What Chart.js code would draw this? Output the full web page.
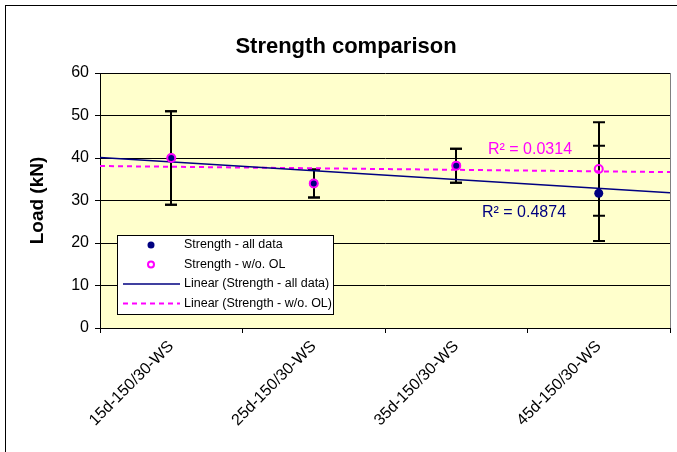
<!DOCTYPE html>
<html>
<head>
<meta charset="utf-8">
<script src="https://cdn.jsdelivr.net/npm/chart.js@4"></script>
<style>
  html, body { margin: 0; padding: 0; background: #fff; }
  #wrap { width: 677px; height: 452px; }
</style>
</head>
<body>
<div id="wrap"><canvas id="chart"></canvas></div>
<script>
const categories = ['15d-150/30-WS', '25d-150/30-WS', '35d-150/30-WS', '45d-150/30-WS'];
const strengthAll = [40.0, 34.0, 38.2, 31.7];
const errorAll = [11.0, 3.3, 4.0, 11.2];
const strengthNoOL = [40.0, 34.0, 38.2, 37.4];
const errorNoOL = [11.0, 3.3, 4.0, 11.0];
const r2Labels = ['R² = 0.4874', 'R² = 0.0314'];
const yTicks = [0, 10, 20, 30, 40, 50, 60];

const FONT = "'Liberation Sans', Arial, sans-serif";
const NAVY = '#000080';
const MAGENTA = '#FF00FF';

// least squares line over category positions 1..n, drawn across the whole plot
function trendline(values) {
    const n = values.length;
    const xs = values.map((v, i) => i + 1);
    const mx = xs.reduce((a, b) => a + b, 0) / n;
    const my = values.reduce((a, b) => a + b, 0) / n;
    let sxy = 0, sxx = 0;
    xs.forEach((x, i) => { sxy += (x - mx) * (values[i] - my); sxx += (x - mx) * (x - mx); });
    const slope = sxy / sxx;
    return [0.5, n + 0.5].map(x => ({ x: x, y: my + slope * (x - mx) }));
}

const toPoints = values => values.map((v, i) => ({ x: i + 1, y: v }));

const chartDecor = {
    id: 'chartDecor',
    beforeDraw(chart) {
        const { ctx, chartArea: a } = chart;
        ctx.save();
        ctx.fillStyle = '#fff';
        ctx.fillRect(0, 0, chart.width, chart.height);
        ctx.strokeStyle = '#000';
        ctx.lineWidth = 1;
        ctx.strokeRect(5.5, 5.5, 700, 500);
        ctx.fillStyle = '#FFFFCC';
        ctx.fillRect(a.left, a.top, a.right - a.left, a.bottom - a.top);
        ctx.restore();
    },
    beforeDatasetsDraw(chart) {
        const { ctx, chartArea: a, scales: { x, y } } = chart;
        ctx.save();
        ctx.strokeStyle = '#808080';
        ctx.lineWidth = 1;
        ctx.beginPath();
        ctx.moveTo(a.right + 0.5, a.top);
        ctx.lineTo(a.right + 0.5, a.bottom);
        ctx.stroke();
        // error bars
        ctx.strokeStyle = '#000';
        ctx.lineWidth = 2;
        const bars = (vals, errs) => vals.forEach((v, i) => {
            const px = Math.round(x.getPixelForValue(i + 1));
            const top = y.getPixelForValue(v + errs[i]);
            const bot = y.getPixelForValue(v - errs[i]);
            ctx.beginPath();
            ctx.moveTo(px, top); ctx.lineTo(px, bot);
            ctx.moveTo(px - 6, top); ctx.lineTo(px + 6, top);
            ctx.moveTo(px - 6, bot); ctx.lineTo(px + 6, bot);
            ctx.stroke();
        });
        bars(strengthAll, errorAll);
        bars(strengthNoOL, errorNoOL);
        ctx.restore();
    },
    afterDraw(chart) {
        const { ctx } = chart;
        ctx.save();
        // title
        ctx.fillStyle = '#000';
        ctx.font = 'bold 22px ' + FONT;
        ctx.textAlign = 'center';
        ctx.textBaseline = 'middle';
        ctx.fillText('Strength comparison', 346, 47);

        // R² labels
        ctx.font = '16px ' + FONT;
        ctx.textAlign = 'left';
        ctx.fillStyle = MAGENTA;
        ctx.fillText(r2Labels[1], 488, 150);
        ctx.fillStyle = NAVY;
        ctx.fillText(r2Labels[0], 482, 213);

        // legend
        ctx.fillStyle = '#fff';
        ctx.fillRect(117, 235, 216, 79);
        ctx.strokeStyle = '#000';
        ctx.lineWidth = 1;
        ctx.strokeRect(117.5, 235.5, 216, 79);
        const rows = [245, 264.5, 284, 303.5];
        const names = chart.data.datasets.map(d => d.label);
        ctx.font = '12.5px ' + FONT;
        ctx.fillStyle = '#000';
        ctx.textBaseline = 'middle';
        ctx.fillText(names[1], 184, rows[0]);
        ctx.fillText(names[0], 184, rows[1]);
        ctx.fillText(names[2], 184, rows[2]);
        ctx.fillText(names[3], 184, rows[3]);
        ctx.fillStyle = NAVY;
        ctx.beginPath(); ctx.arc(151, rows[0], 3.5, 0, Math.PI * 2); ctx.fill();
        ctx.strokeStyle = MAGENTA;
        ctx.lineWidth = 2;
        ctx.beginPath(); ctx.arc(151, rows[1], 3, 0, Math.PI * 2); ctx.stroke();
        ctx.strokeStyle = NAVY;
        ctx.lineWidth = 1.5;
        ctx.beginPath(); ctx.moveTo(123, rows[2]); ctx.lineTo(180, rows[2]); ctx.stroke();
        ctx.strokeStyle = MAGENTA;
        ctx.lineWidth = 2;
        ctx.setLineDash([5, 4]);
        ctx.beginPath(); ctx.moveTo(123, rows[3]); ctx.lineTo(180, rows[3]); ctx.stroke();
        ctx.restore();
    }
};

new Chart(document.getElementById('chart'), {
    type: 'scatter',
    data: {
        datasets: [
            {
                label: 'Strength - w/o. OL',
                data: toPoints(strengthNoOL),
                pointRadius: 4,
                pointBorderWidth: 2,
                pointBorderColor: MAGENTA,
                pointBackgroundColor: 'rgba(0,0,0,0)',
                showLine: false
            },
            {
                label: 'Strength - all data',
                data: toPoints(strengthAll),
                pointRadius: 4.5,
                pointBorderWidth: 0,
                pointBackgroundColor: NAVY,
                showLine: false
            },
            {
                label: 'Linear (Strength - all data)',
                data: trendline(strengthAll),
                showLine: true,
                borderColor: NAVY,
                borderWidth: 1.5,
                pointRadius: 0
            },
            {
                label: 'Linear (Strength - w/o. OL)',
                data: trendline(strengthNoOL),
                showLine: true,
                borderColor: MAGENTA,
                borderWidth: 2,
                borderDash: [5, 4],
                pointRadius: 0
            }
        ]
    },
    options: {
        responsive: true,
        maintainAspectRatio: false,
        animation: false,
        layout: { padding: { top: 73, right: 7, left: 0, bottom: 0 } },
        plugins: {
            legend: { display: false },
            tooltip: { enabled: false },
            title: { display: false }
        },
        scales: {
            x: {
                type: 'linear',
                min: 0.5,
                max: categories.length + 0.5,
                afterBuildTicks: scale => {
                    const t = [];
                    for (let v = 0.5; v <= categories.length + 0.5; v += 0.5) t.push({ value: v });
                    scale.ticks = t;
                },
                afterFit: scale => {
                    scale.height = 124;
                    scale.paddingRight = 0;
                    scale.paddingLeft = 0;
                },
                ticks: {
                    autoSkip: false,
                    minRotation: 45,
                    maxRotation: 45,
                    padding: 4,
                    color: '#000',
                    font: { family: FONT, size: 16 },
                    callback: v => Number.isInteger(v) ? categories[v - 1] : ''
                },
                grid: {
                    drawOnChartArea: false,
                    tickLength: 5,
                    color: c => (c.tick && Number.isInteger(c.tick.value)) ? 'rgba(0,0,0,0)' : '#000'
                },
                border: { color: '#000', width: 1 }
            },
            y: {
                min: 0,
                max: 60,
                afterBuildTicks: scale => { scale.ticks = yTicks.map(v => ({ value: v })); },
                afterFit: scale => { scale.width = 100; },
                ticks: {
                    padding: 6,
                    color: '#000',
                    font: { family: FONT, size: 16 }
                },
                grid: { color: '#000', tickLength: 5 },
                border: { color: '#000', width: 1 },
                title: {
                    display: true,
                    text: 'Load (kN)',
                    color: '#000',
                    font: { family: FONT, size: 19, weight: 'bold' },
                    padding: { top: 26, bottom: 0 }
                }
            }
        }
    },
    plugins: [chartDecor]
});
</script>
</body>
</html>
